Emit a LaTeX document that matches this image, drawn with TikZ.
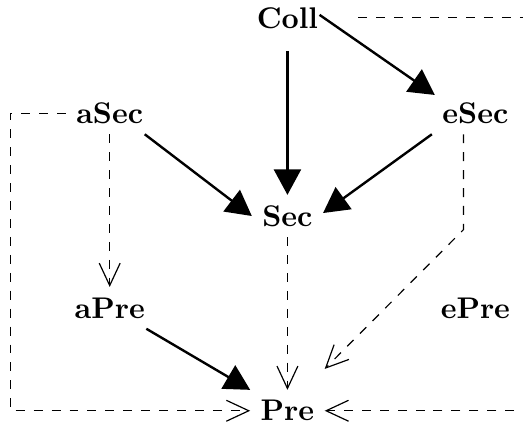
\documentclass[tikz,border=0pt]{standalone}
\usetikzlibrary{arrows.meta}
\tikzset{
  var/.style={font=\bfseries},
  strong/.style={thick,-{Triangle[length=8.5pt,width=9pt]}},
  weak/.style={dashed,-{Straight Barb[length=7.5pt,width=7pt]}},
}
\begin{document}
\begin{tikzpicture}
\clip (0,0) rectangle (6.15,-5.13);
\node[var] (coll) at (3.38,-0.21) {Coll};
\node[var] (asec) at (1.29,-1.33) {aSec};
\node[var] (esec) at (5.59,-1.33) {eSec};
\node[var] (sec)  at (3.38,-2.54) {Sec};
\node[var] (apre) at (1.29,-3.62) {aPre};
\node[var] (epre) at (5.59,-3.62) {ePre};
\node[var] (pre)  at (3.38,-4.83) {Pre};
\coordinate (bend) at (5.45,-2.70);
\coordinate (lft) at (0.12,0);
\coordinate (rgt) at (6.30,0);
% solid edges
\draw[strong] ([yshift=-4pt]coll.south)--(sec.north);
\draw[strong] ([xshift=-3pt,yshift=1pt]coll.east)--([xshift=1pt,yshift=-1pt]esec.north west);
\draw[strong] ([xshift=-3pt]asec.south east)--(sec.west);
\draw[strong] (esec.south west)--([yshift=1pt]sec.east);
\draw[strong] ([xshift=-3pt]apre.south east)--(pre.north west);
% dashed edges
\draw[weak] (asec.south)--(apre.north);
\draw[weak] (sec.south)--(pre.north);
\draw[weak] (esec.south -| bend)--(bend)--([yshift=7pt]pre.north east);
\draw[weak] (asec.west)--(asec.west -| lft)--(pre.west -| lft)--(pre.west);
\draw[weak,shorten <=10pt] (coll.east)--(coll.east -| rgt)--(pre.east -| rgt)--(pre.east);
\end{tikzpicture}
\end{document}
